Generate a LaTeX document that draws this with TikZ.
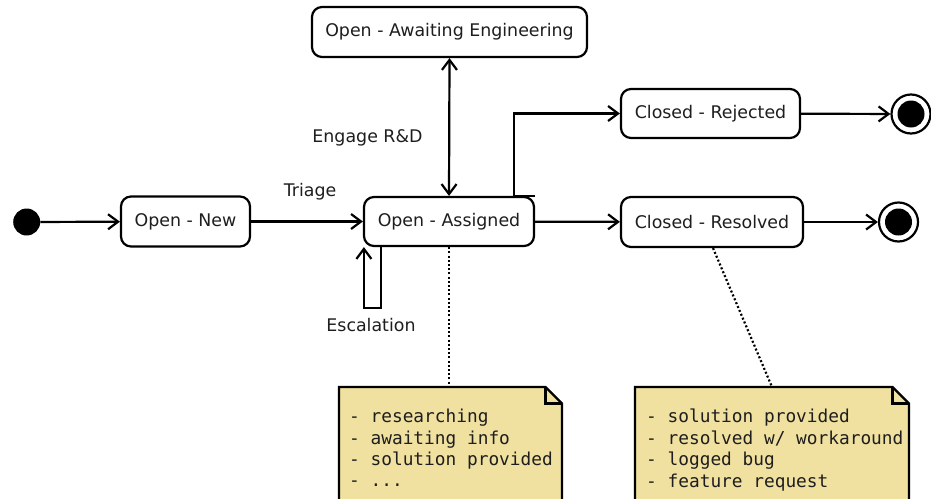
\documentclass[tikz,border=0pt]{standalone}
\usepackage{fontspec}
\setmainfont{DejaVu Sans}
\newfontfamily\notefont{DejaVu Sans Mono}
\usetikzlibrary{arrows.meta}
\definecolor{notefill}{RGB}{240,225,160}
\definecolor{txt}{RGB}{30,30,30}
\begin{document}
\begin{tikzpicture}[x=1pt,y=-1pt,
  every node/.style={font=\fontsize{17.4}{21}\selectfont, text=txt},
  state/.style={draw, line width=2.2pt, rounded corners=10pt, inner sep=0pt, fill=white},
  initst/.style={circle, fill=black, inner sep=0pt, minimum size=27pt},
  finalst/.style={circle, draw, line width=2.2pt, inner sep=0pt, minimum size=39pt, fill=white,
     path picture={\fill[black] (path picture bounding box.center) circle (13.5pt);}},
  trans/.style={line width=2.2pt, -{Straight Barb[length=10pt,width=15pt,line width=2.2pt]}},
  bitrans/.style={line width=2.2pt, {Straight Barb[length=10pt,width=15pt,line width=2.2pt]}-{Straight Barb[length=10pt,width=15pt,line width=2.2pt]}},
  lbl/.style={inner sep=0pt},
  notebox/.style={draw, line width=2.2pt, fill=notefill, line join=miter},
  notetext/.style={anchor=north west, align=left, inner sep=0pt, font=\notefont\fontsize{17.8}{21.4}\selectfont},
  notelink/.style={line width=2.2pt, dash pattern=on 2pt off 2.2pt}
]
\useasboundingbox (0,0) rectangle (931,498);

\node[initst] (init) at (26.7,222) {};
\node[state, minimum width=129pt, minimum height=50pt] (new) at (185.5,221.5) {Open - New};
\node[state, minimum width=170pt, minimum height=49pt] (ass) at (449,221.5) {Open - Assigned};
\node[state, minimum width=275pt, minimum height=50pt] (awe) at (449.5,32) {Open - Awaiting Engineering};
\node[state, minimum width=179pt, minimum height=49pt] (rej) at (710.5,113.5) {Closed - Rejected};
\node[state, minimum width=182pt, minimum height=50pt] (res) at (712,222) {Closed - Resolved};
\node[finalst] (fin1) at (911,114) {};
\node[finalst] (fin2) at (898.5,222) {};

\draw[trans] (init) -- (new);
\draw[trans] (new) -- (ass);
\node[lbl] (ltriage) at (310,192) {Triage};
\draw[bitrans] (ass.north) -- (awe.south);
\node[lbl] (lengage) at (367.5,138) {Engage R\&D};
\draw[trans] (ass.north east) -- ++(-21,0) |- (rej.west);
\draw[trans] (ass) -- (res);
\draw[trans] (rej) -- (fin1);
\draw[trans] (res) -- (fin2);
\draw[trans] ([xshift=18pt]ass.south west) -- ++(0,61) -| ([xshift=1pt]ass.south west);
\node[lbl] (lesc) at (371,325) {Escalation};

% notes
\draw[notebox] (339,387) -- (545.5,387) -- (562,403.5) -- (562,510) -- (339,510) -- cycle;
\draw[line width=2.2pt, line join=miter] (545.5,387) -- (545.5,403.5) -- (562,403.5);
\coordinate (n1top) at (449,387);
\node[notetext] (note1) at (349,409) {- researching\\- awaiting info\\- solution provided\\- ...};

\draw[notebox] (635,387) -- (892.5,387) -- (909,403.5) -- (909,510) -- (635,510) -- cycle;
\draw[line width=2.2pt, line join=miter] (892.5,387) -- (892.5,403.5) -- (909,403.5);
\coordinate (n2top) at (772,387);
\node[notetext] (note2) at (646,409) {- solution provided\\- resolved w/ workaround\\- logged bug\\- feature request};

\draw[notelink] (ass.south) -- (n1top);
\draw[notelink] ([xshift=1pt]res.south) -- (n2top);
\end{tikzpicture}
\end{document}
